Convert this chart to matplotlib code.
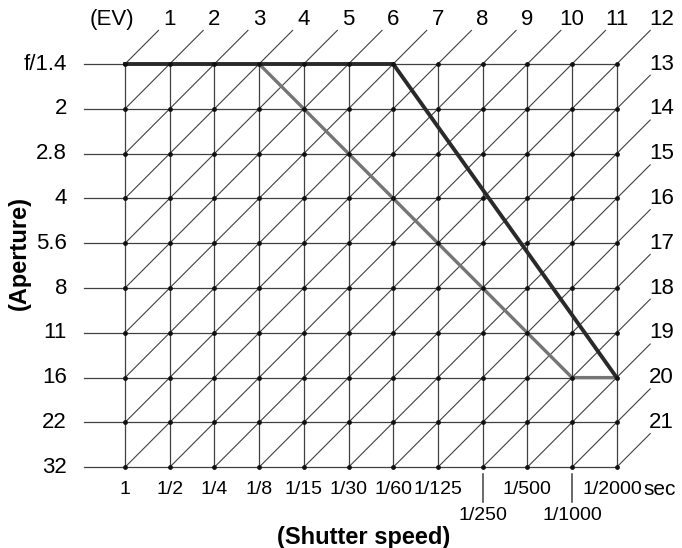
import matplotlib.pyplot as plt

# exposure chart data
shutter = ["1", "1/2", "1/4", "1/8", "1/15", "1/30", "1/60", "1/125",
           "1/250", "1/500", "1/1000", "1/2000"]
aperture = ["f/1.4", "2", "2.8", "4", "5.6", "8", "11", "16", "22", "32"]
ev_values = list(range(1, 22))
low_shutter = ["1/250", "1/1000"]   # labels drawn on the lower line

# two program lines (shutter, aperture) break points
prog_dark_shutter = ["1", "1/60", "1/2000"]
prog_dark_aperture = ["f/1.4", "f/1.4", "16"]
prog_gray_shutter = ["1/8", "1/1000", "1/2000"]
prog_gray_aperture = ["f/1.4", "16", "16"]

plt.rcParams['font.family'] = ['Liberation Sans', 'DejaVu Sans']

fig = plt.figure(figsize=(6.82, 5.48), dpi=100)
ax = fig.add_axes([0, 0, 1, 1])
ax.set_xlim(-125 / 44.7, (682 - 125) / 44.7)
ax.set_ylim((548 - 64) / 44.8, -64 / 44.8)
ax.axis("off")

ncol = len(shutter) - 1
nrow = len(aperture) - 1
gc = "#404040"
fs = 16      # EV numbers / apertures
fs_s = 14    # shutter speeds
fs_t = 17    # axis titles

# horizontal + vertical grid
for r in range(nrow + 1):
    ax.plot([-0.92, ncol], [r, r], color=gc, lw=0.9, zorder=1)
for c in range(ncol + 1):
    ax.plot([c, c], [0, nrow], color=gc, lw=0.9, zorder=1)

# EV diagonals: col + row = ev - 1
ext = 0.75
for ev in ev_values:
    s = ev - 1
    r_lo = min(nrow, s)
    c_lo = s - r_lo
    c_hi = min(ncol, s)
    r_hi = s - c_hi
    ax.plot([c_lo, c_hi + ext], [r_lo, r_hi - ext], color=gc, lw=0.8, zorder=1)
    ax.text(c_hi + 1, r_hi - 1, str(ev), fontsize=fs, ha="center", va="center")
ax.text(-0.3, -1, "(EV)", fontsize=fs, ha="center", va="center")

# intersection dots
xs = [c for c in range(ncol + 1) for r in range(nrow + 1)]
ys = [r for c in range(ncol + 1) for r in range(nrow + 1)]
ax.scatter(xs, ys, s=6, color="#111111", zorder=3)

# program lines
def idx(vals, labels):
    return [labels.index(v) for v in vals]

ax.plot(idx(prog_gray_shutter, shutter), idx(prog_gray_aperture, aperture),
        color="#757575", lw=2.4, zorder=2, solid_capstyle="butt")
ax.plot(idx(prog_dark_shutter, shutter), idx(prog_dark_aperture, aperture),
        color="#2a2a2a", lw=2.8, zorder=2, solid_joinstyle="miter")

# aperture labels
for r, lab in enumerate(aperture):
    ax.text(-1.3, r, lab, fontsize=fs, ha="right", va="center")
ax.text(-2.37, 4.22, "(Aperture)", fontsize=fs_t, fontweight="bold",
        rotation=90, ha="center", va="center")

# shutter labels
for c, lab in enumerate(shutter):
    if lab in low_shutter:
        ax.plot([c, c], [nrow + 0.15, nrow + 0.78], color=gc, lw=1.1)
        ax.text(c, nrow + 1.07, lab, fontsize=fs_s, ha="center", va="center")
    elif c == ncol:
        ax.text(c - 0.1, nrow + 0.5, lab, fontsize=fs_s, ha="center", va="center")
    else:
        ax.text(c, nrow + 0.5, lab, fontsize=fs_s, ha="center", va="center")
ax.text(ncol + 0.6, nrow + 0.5, "sec", fontsize=15, ha="left", va="center")
ax.text(5.33, nrow + 1.58, "(Shutter speed)", fontsize=fs_t,
        fontweight="bold", ha="center", va="center")

fig.savefig("out.png", dpi=100)
